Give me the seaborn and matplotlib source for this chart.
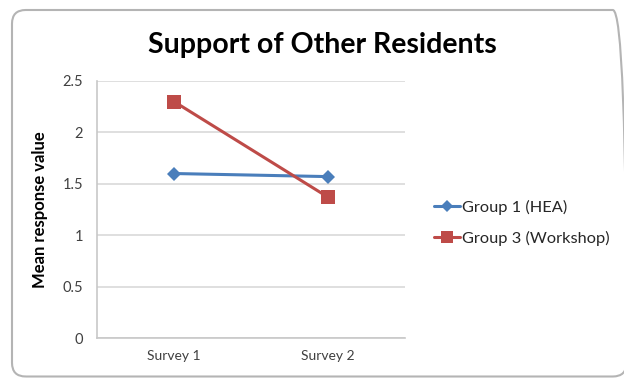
import matplotlib
matplotlib.use("Agg")
import matplotlib.pyplot as plt
from matplotlib.patches import FancyBboxPatch
from matplotlib.lines import Line2D
import seaborn as sns
import pandas as pd

# Chart data
surveys = ["Survey 1", "Survey 2"]
series_names = ["Group 1 (HEA)", "Group 3 (Workshop)"]
group1_hea = [1.6, 1.57]
group3_workshop = [2.3, 1.37]
y_ticks = [0, 0.5, 1, 1.5, 2, 2.5]
y_tick_labels = ["0", "0.5", "1", "1.5", "2", "2.5"]

df = pd.DataFrame({
    "survey": surveys * 2,
    "value": group1_hea + group3_workshop,
    "group": [series_names[0]] * 2 + [series_names[1]] * 2,
})

sns.set_theme(style="white")
plt.rcParams["font.family"] = ["Lato", "DejaVu Sans"]

W, H = 624, 379
fig = plt.figure(figsize=(W / 100, H / 100), dpi=100)
fig.patch.set_facecolor("white")

# rounded chart-area frame; its right side lies just past the canvas edge
frame = FancyBboxPatch((12 / W, 2.5 / H), 614.5 / W, 366.5 / H,
                       boxstyle="round,pad=0,rounding_size=0.022",
                       mutation_aspect=W / H,
                       transform=fig.transFigure, facecolor="none",
                       edgecolor="#b4b4b4", linewidth=1.5, zorder=-1,
                       clip_on=False)
fig.patches.append(frame)

ax = fig.add_axes([97 / W, 41 / H, 308 / W, 257 / H])
ax.set_facecolor("none")

colors = {series_names[0]: "#4a7ebb", series_names[1]: "#be4b48"}
markers = {series_names[0]: "D", series_names[1]: "s"}

sns.lineplot(data=df, x="survey", y="value", hue="group", style="group",
             palette=colors, markers=markers, dashes=False, ax=ax,
             linewidth=2.2, markersize=8, markeredgewidth=0, legend=False,
             sort=False)

# marker sizes differ slightly between the two series
for line in ax.get_lines():
    if line.get_marker() == "D":
        line.set_markersize(7.5)
    else:
        line.set_markersize(10)

ax.set_xlim(-0.5, 1.5)
ax.set_ylim(0, 2.5)
ax.set_yticks(y_ticks)
ax.set_yticklabels(y_tick_labels)
ax.yaxis.grid(True, color="#d9d9d9", linewidth=1.2)
ax.set_axisbelow(True)
for side in ["top", "right"]:
    ax.spines[side].set_visible(False)
for side in ["left", "bottom"]:
    ax.spines[side].set_color("#c8c8c8")
    ax.spines[side].set_linewidth(1.2)
ax.tick_params(axis="both", length=0, labelsize=10, colors="#404040")
ax.tick_params(axis="y", pad=10, labelsize=10.5)
ax.tick_params(axis="x", pad=9)
ax.set_xlabel("")
ax.set_ylabel("Mean response value", fontsize=12, fontweight="bold",
              color="#000000")
ax.yaxis.set_label_coords(-0.158, 0.5)

fig.text(322 / W, 1 - 45 / H, "Support of Other Residents", ha="center",
         va="center", fontsize=20.5, fontweight="bold", color="#000000")

handles = [Line2D([0], [0], color=colors[n], marker=markers[n],
                  markersize=6.5 if markers[n] == "D" else 8,
                  markeredgewidth=0, linewidth=2.2) for n in series_names]
fig.legend(handles, series_names, loc="center left",
           bbox_to_anchor=(423 / W, 1 - 223 / H), frameon=False,
           fontsize=11.8, handlelength=1.55, handletextpad=0.15,
           labelspacing=0.95, borderpad=0.2)

fig.savefig("out.png", dpi=100, facecolor="white")
